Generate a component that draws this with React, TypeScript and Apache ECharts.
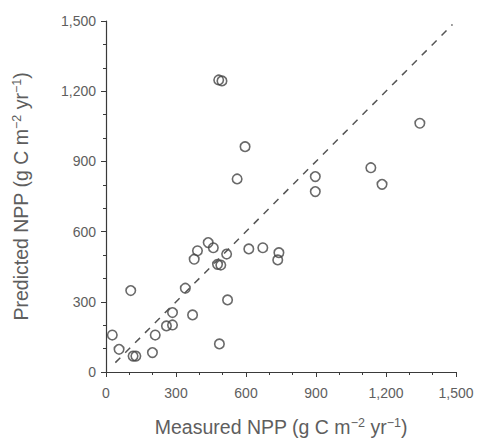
import React, { useEffect, useRef } from "react";
import * as echarts from "echarts";

const measured = [27, 56, 106, 116, 128, 199, 211, 259, 285, 285, 340, 371, 378, 392, 438, 460, 478, 492, 486, 517, 521, 612, 672, 736, 741, 483, 497, 596, 562, 897, 897, 1135, 1183, 1345];
const predicted = [158, 97, 348, 68, 68, 83, 158, 197, 201, 254, 358, 244, 482, 518, 553, 531, 460, 457, 120, 504, 308, 526, 531, 479, 510, 1248, 1244, 963, 825, 835, 771, 873, 802, 1063];
const oneToOne = [[40, 40], [1485, 1485]];
const xTitle = "Measured NPP (g C m{sup|−2} yr{sup|−1})";
const yTitle = "Predicted NPP (g C m{sup|−2} yr{sup|−1})";

const fmt = (v: number) => v.toLocaleString("en-US");

export default function App() {
  const ref = useRef<HTMLDivElement>(null);
  useEffect(() => {
    const chart = echarts.init(ref.current!, null, { renderer: "svg" });
    const font = "'Liberation Sans', Arial, sans-serif";
    const textColor = "#5e5e5e";
    const axisColor = "#3a3a3a";
    const rich = {
      sup: { fontSize: 12.5, fontFamily: font, color: textColor, verticalAlign: "top" as const, lineHeight: 12 },
    };
    const axisCommon = {
      type: "value" as const,
      min: 0,
      max: 1500,
      interval: 300,
      splitLine: { show: false },
      axisLine: { show: true, lineStyle: { color: axisColor, width: 1.2 } },
      axisTick: { show: true, length: 5, lineStyle: { color: axisColor } },
      minorTick: { show: true, splitNumber: 3, length: 3, lineStyle: { color: axisColor } },
      axisLabel: { color: textColor, fontSize: 14, fontFamily: font, formatter: fmt },
      nameLocation: "middle" as const,
      nameTextStyle: { color: textColor, fontSize: 19.5, fontFamily: font, lineHeight: 22, rich },
    };
    chart.setOption({
      animation: false,
      backgroundColor: "#ffffff",
      grid: { left: 106, right: 23, top: 21, bottom: 66, containLabel: false, outerBoundsMode: "none" },
      xAxis: { ...axisCommon, name: xTitle, nameGap: 44, axisLabel: { ...axisCommon.axisLabel, margin: 14 } },
      yAxis: { ...axisCommon, name: yTitle, nameGap: 74, axisLabel: { ...axisCommon.axisLabel, margin: 10 } },
      series: [
        {
          type: "line",
          data: oneToOne,
          symbol: "none",
          lineStyle: { color: "#555", width: 1.5, type: [7, 7] },
          silent: true,
        },
        {
          type: "scatter",
          data: measured.map((m, i) => [m, predicted[i]]),
          symbol: "circle",
          symbolSize: 9.5,
          itemStyle: { color: "rgba(255,255,255,0)", borderColor: "#444", borderWidth: 1.6 },
        },
      ],
    });
    return () => chart.dispose();
  }, []);
  return <div ref={ref} style={{ position: "absolute", left: 0, top: 0, width: 479, height: 438 }} />;
}
